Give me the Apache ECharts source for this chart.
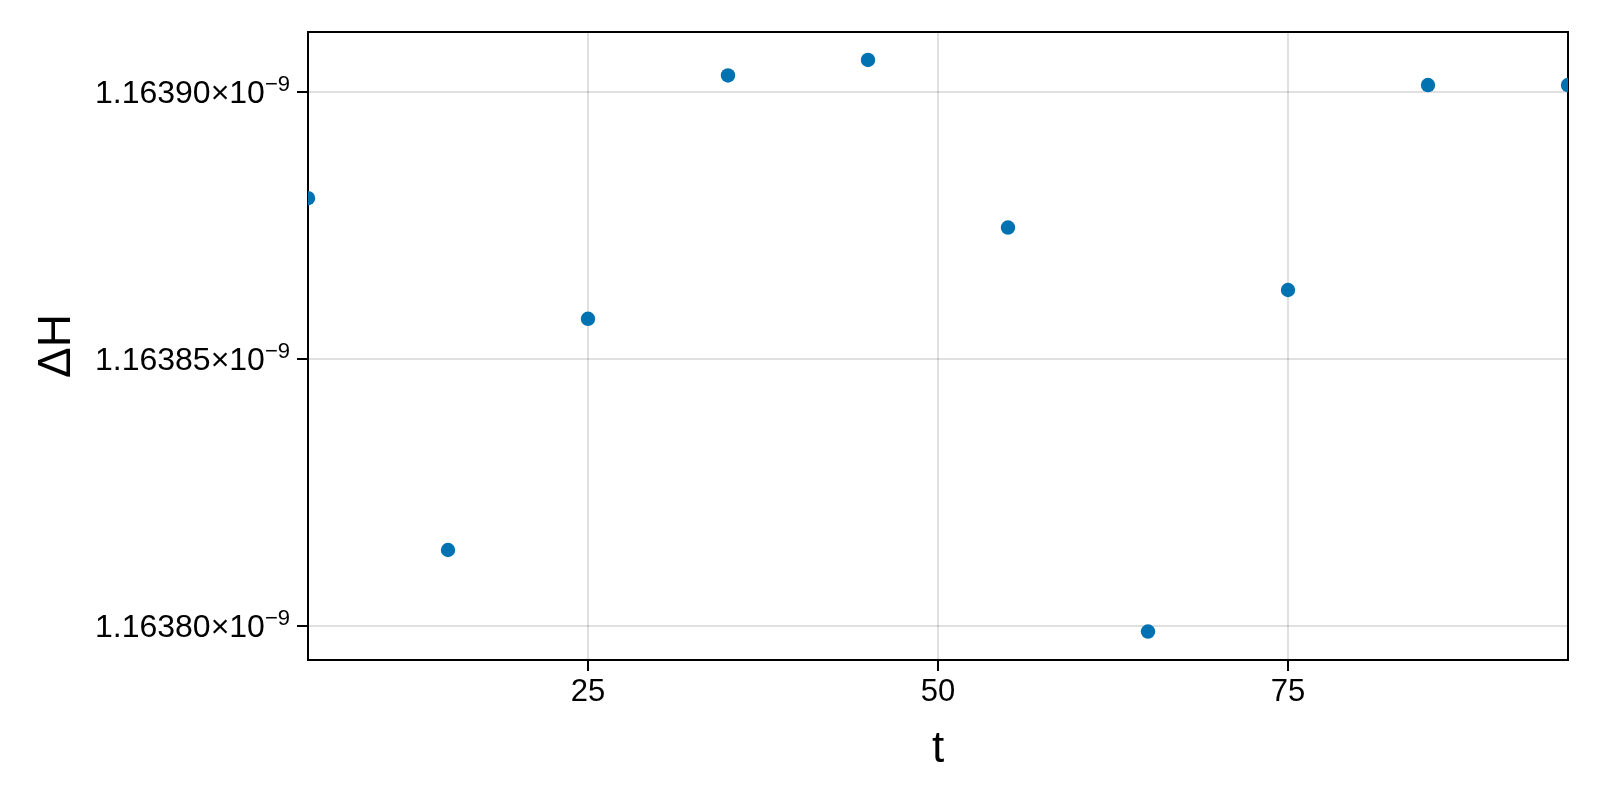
<!DOCTYPE html>
<html>
<head>
<meta charset="utf-8">
<script src="https://cdn.jsdelivr.net/npm/echarts@6/dist/echarts.min.js"></script>
<style>
  html, body { margin: 0; padding: 0; background: #ffffff; }
  #chart { width: 1600px; height: 800px; }
</style>
</head>
<body>
<div id="chart"></div>
<script>
// Data
const t = [5, 15, 25, 35, 45, 55, 65, 75, 85, 95];
const deltaH = [
  1.1638801e-9, 1.16381418e-9, 1.1638575e-9, 1.1639031e-9, 1.163906e-9,
  1.1638746e-9, 1.1637989e-9, 1.1638629e-9, 1.1639013e-9, 1.1639013e-9
];
const xTicks = [25, 50, 75];
const yTicks = [1.16380e-9, 1.16385e-9, 1.16390e-9];
const xLimits = [5, 95];
const yLimits = [1.16379357e-9, 1.16391124e-9];

const FONT = 'Liberation Sans';
const MARKER_R = 7.2;
const chart = echarts.init(document.getElementById('chart'), null, { renderer: 'canvas' });

const option = {
  backgroundColor: '#ffffff',
  animation: false,
  grid: {
    left: 308, right: 32, top: 32, bottom: 140,
    show: true, borderColor: '#000000', borderWidth: 2, backgroundColor: 'transparent'
  },
  xAxis: {
    type: 'value',
    min: xLimits[0], max: xLimits[1],
    name: 't',
    nameLocation: 'middle',
    nameGap: 68,
    nameTextStyle: { fontFamily: FONT, fontSize: 44, color: '#000' },
    axisLine: { show: true, lineStyle: { color: '#000', width: 2 } },
    axisTick: { show: true, customValues: xTicks, length: 11, lineStyle: { color: '#000', width: 2 } },
    axisLabel: { customValues: xTicks, fontFamily: FONT, fontSize: 31, color: '#000', margin: 17 },
    splitLine: { show: true, lineStyle: { color: 'rgba(0,0,0,0.12)', width: 2 } }
  },
  yAxis: {
    type: 'value',
    min: yLimits[0], max: yLimits[1],
    name: 'ΔH',
    nameLocation: 'middle',
    nameGap: 228,
    nameRotate: 90,
    nameTextStyle: { fontFamily: FONT, fontSize: 46, color: '#000' },
    axisLine: { show: true, lineStyle: { color: '#000', width: 2 } },
    axisTick: { show: true, customValues: yTicks, length: 11, lineStyle: { color: '#000', width: 2 } },
    axisLabel: {
      customValues: yTicks,
      margin: 18,
      formatter: function (v) {
        return '{a|' + (v / 1e-9).toFixed(5) + '×10}{s|−9}';
      },
      rich: {
        a: { fontFamily: FONT, fontSize: 32, color: '#000', lineHeight: 36, verticalAlign: 'bottom' },
        s: { fontFamily: FONT, fontSize: 22, color: '#000', lineHeight: 20, verticalAlign: 'top' }
      }
    },
    splitLine: { show: true, lineStyle: { color: 'rgba(0,0,0,0.12)', width: 2 } }
  },
  series: [{
    type: 'custom',
    clip: true,
    data: t.map((x, i) => [x, deltaH[i]]),
    encode: { x: 0, y: 1 },
    renderItem: function (params, api) {
      const p = api.coord([api.value(0), api.value(1)]);
      return {
        type: 'circle',
        shape: { cx: p[0], cy: p[1], r: MARKER_R },
        style: { fill: '#0072B2' }
      };
    }
  }]
};
chart.setOption(option);
</script>
</body>
</html>
